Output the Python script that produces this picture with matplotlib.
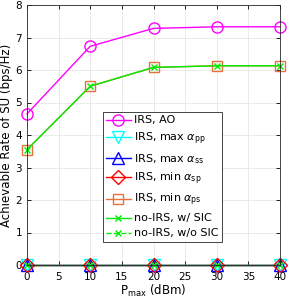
import matplotlib
matplotlib.use("Agg")
from matplotlib import pyplot as plt

p_max = [0, 10, 20, 30, 40]
irs_ao = [4.65, 6.73, 7.28, 7.33, 7.33]
irs_max_pp = [0, 0, 0, 0, 0]
irs_max_ss = [0, 0, 0, 0, 0]
irs_min_sp = [0, 0, 0, 0, 0]
irs_min_ps = [3.55, 5.50, 6.08, 6.13, 6.13]
no_irs_sic = [3.55, 5.50, 6.08, 6.13, 6.13]
no_irs_no_sic = [0, 0, 0, 0, 0]

plt.rcParams['font.family'] = ['DejaVu Sans']
plt.rcParams['mathtext.fontset'] = 'dejavusans'

fig = plt.figure(figsize=(2.91, 3.03), dpi=100)
ax = fig.add_axes([27 / 291, 38 / 303, 253 / 291, 260 / 303])

ms = 8
kw = dict(lw=1, clip_on=False)
ax.plot(p_max, irs_ao, '-o', color='#ff00ff', mfc='none', ms=ms, label='IRS, AO', **kw)
ax.plot(p_max, irs_max_pp, '-v', color='#00ffff', mfc='none', ms=ms, label=r'IRS, max $\alpha_{\mathrm{pp}}$', **kw)
ax.plot(p_max, irs_max_ss, '-^', color='#0000ff', mfc='none', ms=ms, label=r'IRS, max $\alpha_{\mathrm{ss}}$', **kw)
ax.plot(p_max, irs_min_sp, '-D', color='#ff0000', mfc='none', ms=7, label=r'IRS, min $\alpha_{\mathrm{sp}}$', **kw)
ax.plot(p_max, irs_min_ps, '-s', color='#e8703a', mfc='none', ms=7, label=r'IRS, min $\alpha_{\mathrm{ps}}$', **kw)
ax.plot(p_max, no_irs_sic, '-x', color='#00ee00', ms=4, label='no-IRS, w/ SIC', **kw)
ax.plot(p_max, no_irs_no_sic, '--x', color='#00ee00', ms=4, label='no-IRS, w/o SIC', **kw)

ax.set_xlim(0, 40)
ax.set_ylim(0, 8)
ax.set_xticks(range(0, 41, 5))
ax.set_yticks(range(0, 9))
ax.grid(True, color='#e6e6e6', lw=0.6)
ax.set_axisbelow(True)
ax.tick_params(direction='in', top=True, right=True, labelsize=7.5, length=3, width=0.6)
ax.tick_params(axis='x', pad=5)
for s in ax.spines.values():
    s.set_linewidth(0.6)
    s.set_color('#262626')
ax.set_xlabel(r'P$_{\mathrm{max}}$ (dBm)', fontsize=8.5, labelpad=1)
ax.set_ylabel('Achievable Rate of SU (bps/Hz)', fontsize=8.5, labelpad=2)

leg = ax.legend(loc='upper left', bbox_to_anchor=(0.3, 0.588), fontsize=8,
                fancybox=False, framealpha=1, edgecolor='#262626',
                handlelength=2.2, handletextpad=0.3, borderpad=0.3,
                labelspacing=0.45, borderaxespad=0)
leg.get_frame().set_linewidth(0.6)

fig.savefig('out.png', dpi=100)
